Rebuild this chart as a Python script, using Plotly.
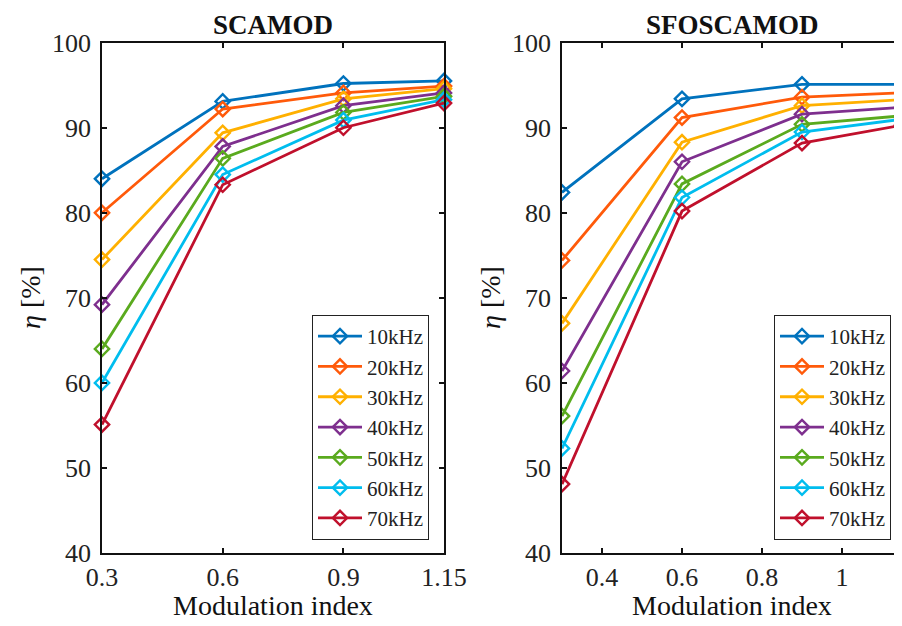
import plotly.graph_objects as go

mod_index = [0.3, 0.6, 0.9, 1.15]
freq_labels = ["10kHz", "20kHz", "30kHz", "40kHz", "50kHz", "60kHz", "70kHz"]
colors = ["#0072BD", "#FF5A0A", "#FFB000", "#7E2F8E", "#5AAA1E", "#00BDEE", "#C0102C"]

scamod_10 = [84.0, 93.1, 95.2, 95.5]
scamod_20 = [80.0, 92.2, 94.1, 94.9]
scamod_30 = [74.5, 89.4, 93.4, 94.6]
scamod_40 = [69.2, 87.8, 92.6, 94.1]
scamod_50 = [64.0, 86.4, 91.8, 93.7]
scamod_60 = [60.0, 84.5, 90.9, 93.3]
scamod_70 = [55.1, 83.3, 90.0, 92.9]

sfo_10 = [82.4, 93.4, 95.1, 95.1]
sfo_20 = [74.4, 91.2, 93.6, 94.1]
sfo_30 = [67.0, 88.3, 92.6, 93.3]
sfo_40 = [61.4, 86.0, 91.6, 92.4]
sfo_50 = [56.1, 83.4, 90.4, 91.4]
sfo_60 = [52.3, 81.8, 89.5, 91.0]
sfo_70 = [48.1, 80.2, 88.2, 90.3]

left_ticks = [0.3, 0.6, 0.9, 1.15]
left_ticktext = ["0.3", "0.6", "0.9", "1.15"]
right_ticks = [0.4, 0.6, 0.8, 1.0]
right_ticktext = ["0.4", "0.6", "0.8", "1"]
y_ticks = [40, 50, 60, 70, 80, 90, 100]

scamod = [scamod_10, scamod_20, scamod_30, scamod_40, scamod_50, scamod_60, scamod_70]
sfo = [sfo_10, sfo_20, sfo_30, sfo_40, sfo_50, sfo_60, sfo_70]

FONT = "Liberation Serif"
fig = go.Figure()

for i, (name, col) in enumerate(zip(freq_labels, colors)):
    fig.add_trace(go.Scatter(
        x=mod_index, y=scamod[i], mode="lines+markers", name=name,
        line=dict(color=col, width=2.8),
        marker=dict(symbol="diamond-open", size=11, color=col, line=dict(width=2.4)),
        xaxis="x", yaxis="y", legend="legend", cliponaxis=False))
for i, (name, col) in enumerate(zip(freq_labels, colors)):
    fig.add_trace(go.Scatter(
        x=mod_index, y=sfo[i], mode="lines+markers", name=name,
        line=dict(color=col, width=2.8),
        marker=dict(symbol="diamond-open", size=11, color=col, line=dict(width=2.4)),
        xaxis="x2", yaxis="y2", legend="legend2", cliponaxis=True))

# page body has an 8px margin; work in reference pixels minus 8
OFF = 8
W, H = 902 - OFF, 626 - OFF


def px(x):
    return (x - OFF) / W


def py(y):
    return 1 - (y - OFF) / H


axis_common = dict(showline=True, linecolor="#111", linewidth=1.8, mirror="ticks",
                   ticks="inside", ticklen=5, tickwidth=1.5, tickcolor="#111",
                   showgrid=False, zeroline=False, automargin=False,
                   tickfont=dict(family=FONT, size=26, color="#222"))

ydom = [py(553), py(42.7)]
fig.update_layout(
    width=W, height=H, autosize=False,
    margin=dict(l=0, r=0, t=0, b=0, pad=0, autoexpand=False),
    paper_bgcolor="white", plot_bgcolor="white",
    font=dict(family=FONT, color="#222"),
    xaxis=dict(domain=[px(102), px(444)], range=[0.3, 1.15], tickvals=left_ticks,
               ticktext=left_ticktext, anchor="y", **axis_common),
    yaxis=dict(domain=ydom, range=[40, 100], tickvals=y_ticks, anchor="x",
               ticklabelstandoff=4, **axis_common),
    xaxis2=dict(domain=[px(562), 1.0], range=[0.3, 1.15], tickvals=right_ticks,
                ticktext=right_ticktext, anchor="y2", **axis_common),
    yaxis2=dict(domain=ydom, range=[40, 100], tickvals=y_ticks, anchor="x2",
                ticklabelstandoff=4, **axis_common),
    legend=dict(x=px(429), y=py(540), xanchor="right", yanchor="bottom",
                bordercolor="#222", borderwidth=1, bgcolor="white",
                font=dict(family=FONT, size=21, color="#222"),
                tracegroupgap=0, itemwidth=44),
    legend2=dict(x=px(891), y=py(540), xanchor="right", yanchor="bottom",
                 bordercolor="#222", borderwidth=1, bgcolor="white",
                 font=dict(family=FONT, size=21, color="#222"),
                 tracegroupgap=0, itemwidth=44),
    showlegend=True,
)

annots = [
    dict(text="<b>SCAMOD</b>", x=px(273), y=py(25), size=27, angle=0),
    dict(text="<b>SFOSCAMOD</b>", x=px(732), y=py(25), size=27, angle=0),
    dict(text="Modulation index", x=px(273), y=py(605), size=28, angle=0),
    dict(text="Modulation index", x=px(732), y=py(605), size=28, angle=0),
    dict(text="<i>η</i> [%]", x=px(30), y=py(298), size=28, angle=-90),
    dict(text="<i>η</i> [%]", x=px(490), y=py(298), size=28, angle=-90),
]
for a in annots:
    fig.add_annotation(text=a["text"], x=a["x"], y=a["y"], xref="paper", yref="paper",
                       xanchor="center", yanchor="middle", showarrow=False,
                       textangle=a["angle"],
                       font=dict(family=FONT, size=a["size"], color="#111"))

fig.write_html("out.html")
